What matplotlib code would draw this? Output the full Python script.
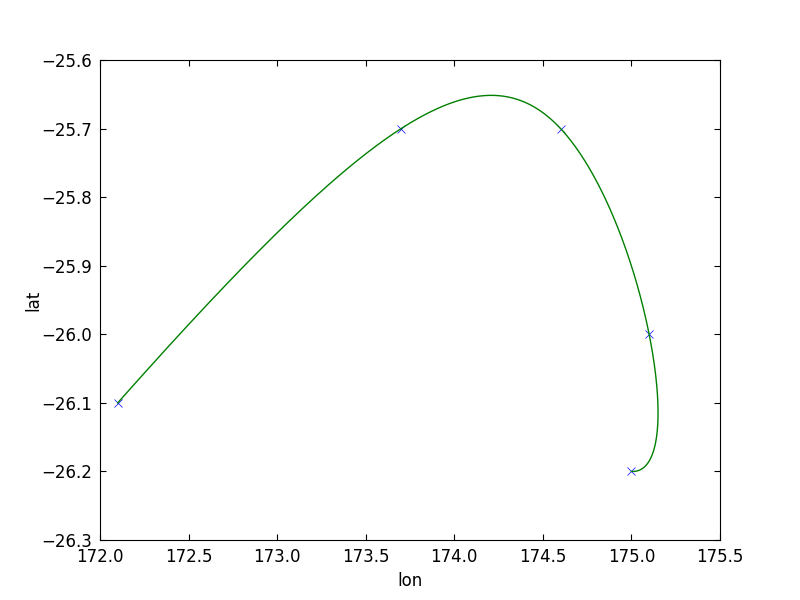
import numpy as np
import matplotlib
matplotlib.use('Agg')
import matplotlib.pyplot as plt

# Sample positions
lon = [172.1, 173.7, 174.6, 175.1, 175.0]
lat = [-26.1, -25.7, -25.7, -26.0, -26.2]


def spline_path(x, y, n=400):
    # parametric cubic spline through the points (not-a-knot, uniform parameter)
    x = np.asarray(x)
    y = np.asarray(y)
    u = np.linspace(0, 1, len(x))
    uk = u[2]

    def basis(t):
        t = np.asarray(t)
        return np.column_stack([np.ones_like(t), t, t ** 2, t ** 3,
                                np.clip(t - uk, 0, None) ** 3])

    A = basis(u)
    cx = np.linalg.solve(A, x)
    cy = np.linalg.solve(A, y)
    unew = np.linspace(0, 1, n)
    B = basis(unew)
    return B @ cx, B @ cy


xnew, ynew = spline_path(lon, lat)

plt.rcParams['font.size'] = 12
fig = plt.figure(figsize=(8, 6), dpi=100)
ax = fig.add_axes([0.125, 0.1, 0.775, 0.8])
ax.plot(lon, lat, 'x', color='blue', markersize=6, markeredgewidth=0.5)
ax.plot(xnew, ynew, color='green', linewidth=1)
ax.set_xlim(172.0, 175.5)
ax.set_ylim(-26.3, -25.6)
ax.set_xticks(np.arange(172.0, 175.51, 0.5))
ax.set_yticks(np.arange(-26.3, -25.59, 0.1))
ax.ticklabel_format(useOffset=False)
ax.tick_params(direction='in', top=True, right=True, length=4, pad=6)
ax.set_xlabel('lon')
ax.set_ylabel('lat', labelpad=-1)
fig.savefig('out.png', dpi=100)
